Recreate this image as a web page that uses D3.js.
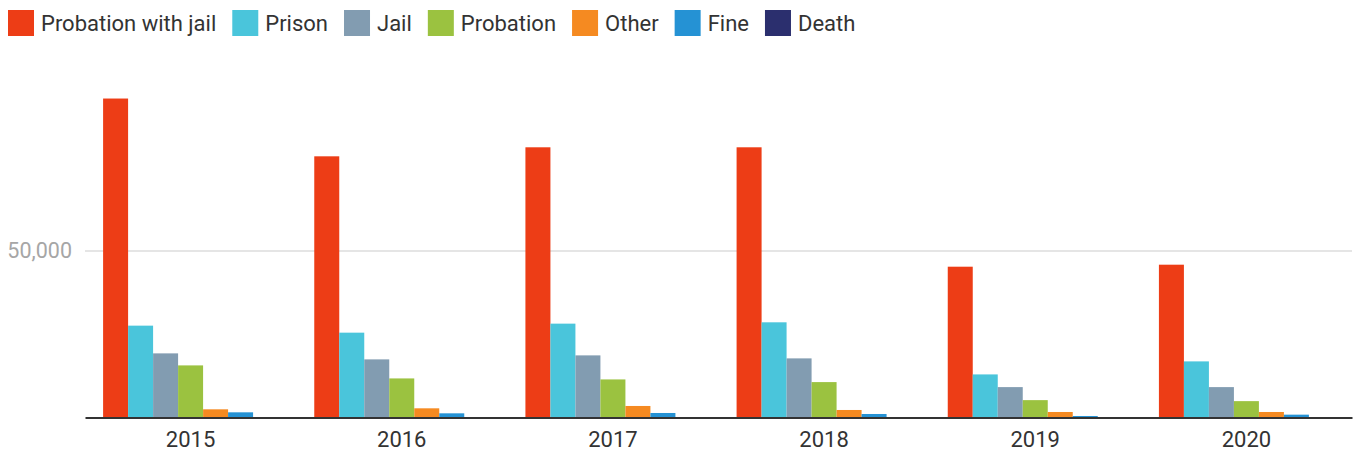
<!DOCTYPE html>
<html>
<head>
<meta charset="utf-8">
<script src="https://cdn.jsdelivr.net/npm/d3@7"></script>
<style>
  body { margin: 0; background: #fff; }
  svg { display: block; font-family: Roboto, sans-serif; }
</style>
</head>
<body>
<script>
var w = 1360,
    h = 455;

// categories and series
var years = ["2015", "2016", "2017", "2018", "2019", "2020"];
var seriesNames = ["Probation with jail", "Prison", "Jail", "Probation", "Other", "Fine", "Death"];
var seriesColors = ["#ed3d16", "#4ac5db", "#829cb1", "#9bc240", "#f58a21", "#2592d4", "#2b2f6e"];

var probationJail = [95500, 78200, 80900, 80900, 45150, 45750];
var prison        = [27500, 25400, 28100, 28500, 12900, 16800];
var jail          = [19200, 17400, 18600, 17700, 9100, 9100];
var probation     = [15600, 11700, 11400, 10600, 5200, 4900];
var other         = [2450, 2750, 3450, 2250, 1650, 1650];
var fine          = [1550, 1250, 1350, 1050, 450, 850];
var death         = [0, 0, 0, 0, 0, 0];

var yTicks = [50000];

var seriesValues = [probationJail, prison, jail, probation, other, fine, death];

var margin = {left: 85, right: 8, top: 62, bottom: 37.5};

var mySVG = d3.select("body")
    .append("svg")
    .attr("width", w)
    .attr("height", h);

var x0 = d3.scaleBand()
    .domain(years)
    .range([margin.left, w - margin.right])
    .paddingInner(0.1713)
    .paddingOuter(0.0857);

var x1 = d3.scaleBand()
    .domain(seriesNames)
    .range([0, x0.bandwidth()]);

var y = d3.scaleLinear()
    .domain([0, 50000])
    .range([h - margin.bottom, 250.5]);

// gridline + y label
var yAxis = mySVG.append("g")
    .attr("transform", "translate(" + margin.left + ",0)")
    .call(d3.axisLeft(y).tickValues(yTicks).tickSize(-(w - margin.left - margin.right)).tickPadding(13).tickFormat(d3.format(",")));
yAxis.select(".domain").remove();
yAxis.selectAll(".tick line").attr("stroke", "#e5e5e5").attr("stroke-width", 2);
yAxis.selectAll(".tick text")
    .attr("fill", "#a6a6a6")
    .attr("font-size", 21.5)
    .attr("font-family", "Roboto, sans-serif");

// bars
var groups = mySVG.selectAll("g.year")
    .data(years)
    .enter()
    .append("g")
    .attr("class", "year")
    .attr("transform", function (d) { return "translate(" + x0(d) + ",0)"; });

groups.selectAll("rect")
    .data(function (d, i) {
        return seriesNames.map(function (s, j) {
            return {name: s, value: seriesValues[j][i], color: seriesColors[j]};
        });
    })
    .enter()
    .append("rect")
    .attr("x", function (d) { return x1(d.name); })
    .attr("y", function (d) { return y(d.value); })
    .attr("width", x1.bandwidth())
    .attr("height", function (d) { return y(0) - y(d.value); })
    .attr("fill", function (d) { return d.color; });

// x axis
var xAxis = mySVG.append("g")
    .attr("transform", "translate(0," + y(0) + ")")
    .call(d3.axisBottom(x0).tickSize(0).tickPadding(14));
xAxis.select(".domain").attr("stroke", "#333").attr("stroke-width", 2);
xAxis.selectAll(".tick text")
    .attr("fill", "#333")
    .attr("font-size", 22)
    .attr("font-family", "Roboto, sans-serif");

// legend
var legend = mySVG.append("g").attr("class", "legend");
var lx = 8;
seriesNames.forEach(function (s, i) {
    legend.append("rect")
        .attr("x", lx)
        .attr("y", 10)
        .attr("width", 26)
        .attr("height", 26)
        .attr("fill", seriesColors[i]);
    var t = legend.append("text")
        .attr("x", lx + 33)
        .attr("y", 30.5)
        .attr("font-size", 22)
        .attr("fill", "#333")
        .text(s);
    lx = lx + 33 + t.node().getComputedTextLength() + 16;
});
</script>
</body>
</html>
